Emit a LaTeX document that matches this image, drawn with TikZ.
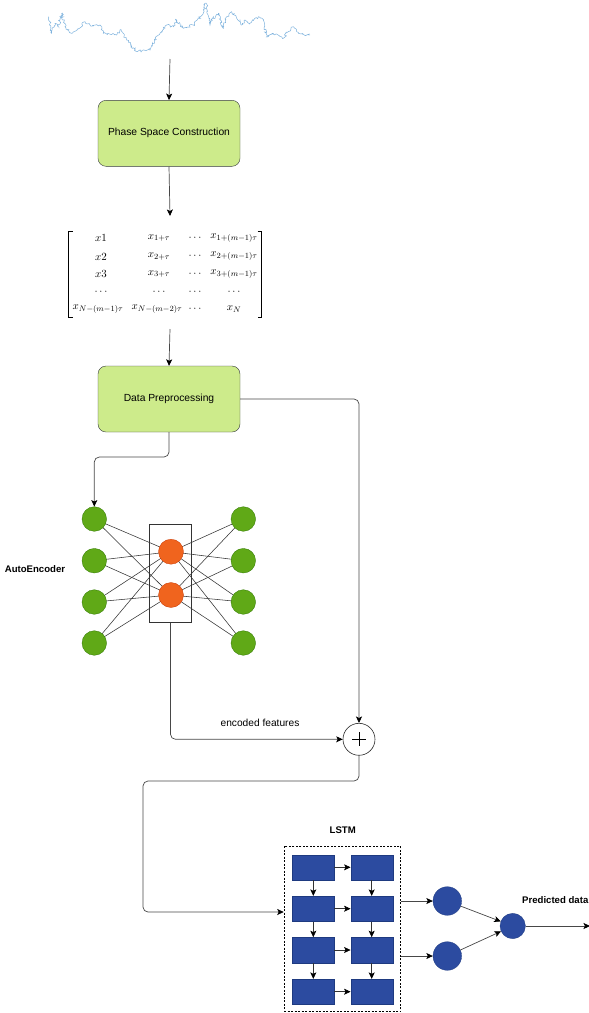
\documentclass[tikz,border=0pt]{standalone}
\usepackage{fontspec}
\setmainfont{Liberation Sans}
\usetikzlibrary{arrows.meta,decorations.pathmorphing,calc}
\definecolor{boxfill}{HTML}{CDEB8B}
\definecolor{boxline}{HTML}{36393D}
\definecolor{aegreen}{HTML}{60A917}
\definecolor{aegreenline}{HTML}{2D7600}
\definecolor{aeorange}{HTML}{F0641E}
\definecolor{aeorangeline}{HTML}{C73500}
\definecolor{lstmblue}{HTML}{2C4BA0}
\definecolor{lstmline}{HTML}{1E3A80}
\definecolor{seriesblue}{HTML}{7EB2DD}
\tikzset{
  procbox/.style={draw=boxline, fill=boxfill, rounded corners=8pt, minimum width=142pt, minimum height=66pt, inner sep=0pt, font=\fontsize{10.3}{12}\selectfont},
  arr/.style={-{Stealth[length=6.5pt,width=6pt,inset=1.5pt,color=black]}},
  conn/.style={draw=black!72, line width=0.7pt, rounded corners=5pt},
  gnode/.style={circle, minimum size=24.6pt, inner sep=0pt, fill=aegreen, draw=aegreenline, line width=0.3pt},
  onode/.style={circle, minimum size=25pt, inner sep=0pt, fill=aeorange, draw=aeorangeline, line width=0.3pt},
  bnode/.style={circle, inner sep=0pt, fill=lstmblue, draw=lstmline, line width=0.3pt},
  cell/.style={rectangle, minimum width=42pt, minimum height=25.3pt, inner sep=0pt, fill=lstmblue, draw=lstmline, line width=0.3pt},
  lab/.style={font=\bfseries\fontsize{9.6}{11}\selectfont, inner sep=0pt},
  plainlab/.style={font=\fontsize{10.2}{12}\selectfont, inner sep=0pt},
  mat/.style={font=\fontsize{11}{13}\selectfont, inner sep=0pt},
  wire/.style={draw=black!80, line width=0.55pt},
}
\begin{document}
\begin{tikzpicture}[x=1pt,y=-1pt]
\useasboundingbox (0,0) rectangle (589,1013);
% time series
\pgfmathsetseed{7}
\draw[seriesblue, line width=0.5pt, decorate, decoration={random steps, segment length=1.3pt, amplitude=1.3pt}]
 plot coordinates {(48.3,16.7) (51.7,33.3) (55,23.3) (58.3,26.7) (61.7,13.3) (65,26.7) (71.7,33.3) (76.7,30) (85,21.7) (90,25) (100,25) (103.3,33.3) (116.7,35) (120,30) (126.7,40) (136.7,51.7) (143.3,50) (150,50) (155,40) (160,33.3) (166.7,25) (173.3,26.7) (176.7,20) (183.3,28.3) (193.3,25) (203.3,13.3) (205,3.3) (206.7,6.7) (210,25) (213.3,16.7) (215,18.3) (218.3,13.3) (223.3,28.3) (226.7,16.7) (231.7,11.7) (236.7,18.3) (241.7,25) (245,20) (250,23.3) (258.3,16.7) (263.3,20) (266.7,36.7) (273.3,33.3) (283.3,38.3) (288.3,31.7) (293.3,26.7) (296.7,31.7) (306.7,35) (310,35)};
\coordinate (ts) at (170,59);

% process boxes
\node[procbox] (phase) at (169,133.3) {Phase Space Construction};
\node[procbox] (prep) at (169,399) {Data Preprocessing};

% matrix
\coordinate (matin) at (170,216);
\coordinate (matout) at (170,329);
\node[mat] (m11) at (101,238) {$x1$};
\node[mat] (m12) at (159,238) {$x_{1+\tau}$};
\node[mat] (m13) at (195,238) {$\cdots$};
\node[mat] (m14) at (234,238) {$x_{1+(m-1)\tau}$};
\node[mat] (m21) at (101,256.5) {$x2$};
\node[mat] (m22) at (159,256.5) {$x_{2+\tau}$};
\node[mat] (m23) at (195,256.5) {$\cdots$};
\node[mat] (m24) at (234,256.5) {$x_{2+(m-1)\tau}$};
\node[mat] (m31) at (101,274) {$x3$};
\node[mat] (m32) at (159,274) {$x_{3+\tau}$};
\node[mat] (m33) at (195,274) {$\cdots$};
\node[mat] (m34) at (234,274) {$x_{3+(m-1)\tau}$};
\node[mat] (m41) at (101,292) {$\cdots$};
\node[mat] (m42) at (159,292) {$\cdots$};
\node[mat] (m43) at (195,292) {$\cdots$};
\node[mat] (m44) at (234,292) {$\cdots$};
\node[mat] (m51) at (98,309) {$x_{N-(m-1)\tau}$};
\node[mat] (m52) at (157,309) {$x_{N-(m-2)\tau}$};
\node[mat] (m53) at (195,309) {$\cdots$};
\node[mat] (m54) at (234,309) {$x_N$};
\draw[line width=0.8pt] (72.5,231) -- (68.5,231) -- (68.5,317) -- (72.5,317);
\draw[line width=0.8pt] (257.5,231) -- (261.5,231) -- (261.5,317) -- (257.5,317);

% autoencoder
\node[draw=black!80, line width=0.6pt, minimum width=42.4pt, minimum height=98.7pt, inner sep=0pt] (aebox) at (170.5,573.3) {};
\foreach \i/\y in {1/519,2/560.7,3/602,4/643}{
  \coordinate (L\i) at (94.3,\y);
  \coordinate (R\i) at (243.3,\y);
}
\coordinate (H1) at (171,551.7);
\coordinate (H2) at (171,595);
\foreach \i in {1,2,3,4}{
  \foreach \h in {1,2}{
    \draw[wire] (L\i) -- (H\h);
    \draw[wire] (H\h) -- (R\i);
  }
}
\foreach \i in {1,2,3,4}{
  \node[gnode] (Ln\i) at (L\i) {};
  \node[gnode] (Rn\i) at (R\i) {};
}
\node[onode] (Hn1) at (H1) {};
\node[onode] (Hn2) at (H2) {};
\node[lab] (aelab) at (35,569.5) {AutoEncoder};

% merge
\node[circle, draw=black!85, line width=0.6pt, minimum size=32pt, inner sep=0pt] (plus) at (359,739.3) {};
\draw[line width=0.7pt] ($(plus.center)+(-7,0)$) -- ($(plus.center)+(7,0)$);
\draw[line width=0.7pt] ($(plus.center)+(0,-7)$) -- ($(plus.center)+(0,7)$);
\node[plainlab] (enclab) at (260,723) {encoded features};

% LSTM
\node[draw, dashed, line width=0.6pt, dash pattern=on 2pt off 1.5pt, minimum width=116.7pt, minimum height=165.5pt, inner sep=0pt] (lstmbox) at (342.35,928.8) {};
\node[lab] (lstmlab) at (342.7,830) {LSTM};
\foreach \r/\y in {1/867.3,2/908.7,3/950,4/991.7}{
  \node[cell] (A\r) at (313.3,\y) {};
  \node[cell] (B\r) at (371.7,\y) {};
  \draw[wire, arr] (A\r.east) -- (B\r.west);
}
\foreach \r/\s in {1/2,2/3,3/4}{
  \draw[wire, arr] (A\r.south) -- (A\s.north);
  \draw[wire, arr] (B\r.south) -- (B\s.north);
}
\node[bnode, minimum size=28.6pt] (O1) at (447.3,901) {};
\node[bnode, minimum size=28.6pt] (O2) at (447.3,956) {};
\node[bnode, minimum size=25.4pt] (F) at (512.7,926) {};
\coordinate (outend) at (590,926);
\node[lab, anchor=west] (predlab) at (522,900) {Predicted data};

% connectors
\draw[conn, arr] (ts) -- (phase.north);
\draw[conn, arr] (phase.south) -- (matin);
\draw[conn, arr] (matout) -- (prep.north);
\coordinate (b1) at (169,457);
\draw[conn, arr] (prep.south) -- (b1) -| (Ln1.north);
\draw[conn, arr] (prep.east) -| (plus.north);
\draw[conn, arr] (aebox.south) |- (plus.west);
\coordinate (c1) at (143,781);
\coordinate (c2) at (143,912);
\draw[conn, arr] (plus.south) |- (c1) -- (c2) -- (c2 -| lstmbox.west);
\draw[conn, arr] (lstmbox.east |- O1) -- (O1.west);
\draw[conn, arr] (lstmbox.east |- O2) -- (O2.west);
\draw[conn, arr] (O1) -- (F);
\draw[conn, arr] (O2) -- (F);
\draw[conn, arr] (F.east) -- (outend);
\end{tikzpicture}
\end{document}
